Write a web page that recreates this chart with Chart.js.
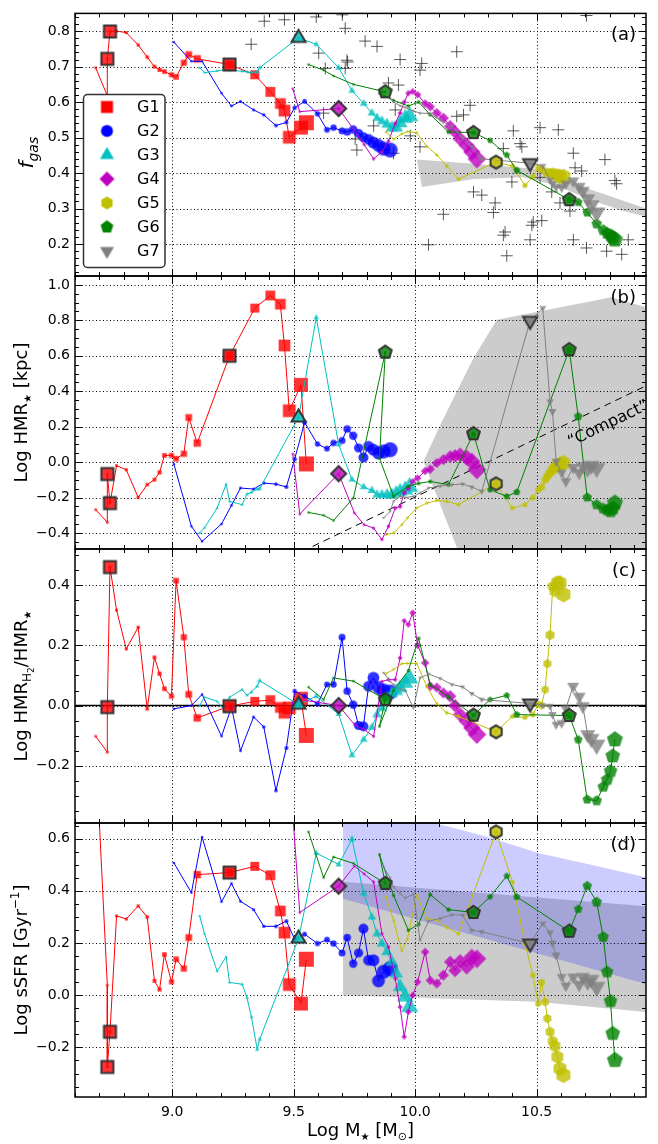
<!DOCTYPE html>
<html>
<head>
<meta charset="utf-8">
<script src="https://cdn.jsdelivr.net/npm/chart.js@4.4.0/dist/chart.umd.min.js"></script>
<style>
  html, body { margin: 0; padding: 0; background: #fff; }
  #wrap { position: relative; width: 658px; height: 1144px; }
  #wrap canvas { position: absolute; left: 0; top: 0; }
</style>
</head>
<body>
<div id="wrap">
  <canvas id="panelA" width="658" height="1144"></canvas>
  <canvas id="panelB" width="658" height="1144"></canvas>
  <canvas id="panelC" width="658" height="1144"></canvas>
  <canvas id="panelD" width="658" height="1144"></canvas>
</div>
<script>
// ---------------- axes ----------------
const massRange = [8.6, 10.95];
const massTicks = [9.0, 9.5, 10.0, 10.5];
const fgasRange = [0.11, 0.85];
const fgasTicks = [0.2, 0.3, 0.4, 0.5, 0.6, 0.7, 0.8];
const hmrRange = [-0.49, 1.05];
const hmrTicks = [-0.4, -0.2, 0.0, 0.2, 0.4, 0.6, 0.8, 1.0];
const ratioRange = [-0.39, 0.52];
const ratioTicks = [-0.2, 0.0, 0.2, 0.4];
const ssfrRange = [-0.39, 0.66];
const ssfrTicks = [-0.2, 0.0, 0.2, 0.4, 0.6];

// ---------------- evolutionary tracks ----------------
const g1Mass  = [8.685, 8.733, 8.733, 8.744, 8.771, 8.811, 8.86, 8.897, 8.927, 8.948, 8.968, 8.997, 9.016, 9.048, 9.068, 9.103, 9.236, 9.34, 9.404, 9.445, 9.462, 9.482, 9.53, 9.552];
const g1Fgas  = [0.697, 0.618, 0.722, 0.799, 0.80, 0.796, 0.761, 0.727, 0.70, 0.691, 0.686, 0.677, 0.671, 0.711, 0.734, 0.722, 0.706, 0.677, 0.629, 0.596, 0.576, 0.501, 0.528, 0.542];
const g1Hmr   = [-0.268, -0.34, -0.067, -0.231, -0.02, -0.043, -0.199, -0.127, -0.099, -0.058, 0.038, 0.038, 0.019, 0.047, 0.252, 0.108, 0.60, 0.869, 0.94, 0.891, 0.658, 0.29, 0.436, -0.01];
const g1Ratio = [-0.102, -0.155, -0.005, 0.46, 0.317, 0.188, 0.26, -0.011, 0.16, 0.106, 0.056, 0.031, 0.415, 0.227, 0.037, -0.041, -0.002, 0.014, 0.018, -0.006, -0.024, -0.008, 0.023, -0.099];
const g1Ssfr  = [0.95, 0.038, -0.275, -0.14, 0.304, 0.292, 0.342, 0.30, 0.055, 0.022, 0.156, 0.051, 0.138, 0.102, 0.221, 0.462, 0.47, 0.494, 0.46, 0.323, 0.24, 0.041, -0.032, 0.138];
const g1Marked = [2, 3, 16];

const g2Mass  = [9.007, 9.079, 9.123, 9.203, 9.244, 9.281, 9.335, 9.377, 9.427, 9.47, 9.504, 9.545, 9.598, 9.637, 9.664, 9.699, 9.72, 9.745, 9.767, 9.787, 9.808, 9.828, 9.849, 9.87, 9.897];
const g2Fgas  = [0.769, 0.715, 0.715, 0.625, 0.589, 0.602, 0.578, 0.564, 0.534, 0.543, 0.584, 0.602, 0.567, 0.522, 0.528, 0.519, 0.516, 0.523, 0.512, 0.501, 0.495, 0.486, 0.478, 0.469, 0.465];
const g2Hmr   = [-0.011, -0.362, -0.447, -0.349, -0.244, -0.146, -0.152, -0.118, -0.124, -0.14, 0.017, 0.224, 0.102, 0.076, 0.108, 0.122, 0.187, 0.149, 0.08, 0.026, 0.089, 0.07, 0.051, 0.06, 0.07];
const g2Ratio = [-0.011, 0.0, 0.037, -0.102, -0.005, -0.15, -0.038, -0.071, -0.282, -0.141, 0.048, 0.031, 0.006, 0.07, 0.07, 0.227, 0.048, 0.003, -0.066, -0.069, 0.064, 0.092, 0.06, 0.05, 0.045];
const g2Ssfr  = [0.507, 0.393, 0.606, 0.358, 0.428, 0.36, 0.328, 0.264, 0.264, 0.284, 0.215, 0.234, 0.198, 0.213, 0.198, 0.162, 0.221, 0.121, 0.162, 0.255, 0.134, 0.134, 0.055, 0.09, 0.102];
const g2Marked = [];

const g3Mass  = [9.113, 9.133, 9.185, 9.222, 9.236, 9.288, 9.308, 9.326, 9.35, 9.36, 9.52, 9.593, 9.685, 9.74, 9.788, 9.822, 9.843, 9.863, 9.884, 9.904, 9.922, 9.938, 9.959, 9.977];
const g3Fgas  = [0.697, 0.683, 0.688, 0.692, 0.69, 0.687, 0.685, 0.684, 0.685, 0.697, 0.781, 0.763, 0.697, 0.632, 0.596, 0.569, 0.555, 0.546, 0.537, 0.528, 0.528, 0.541, 0.555, 0.56];
const g3Hmr   = [-0.40, -0.37, -0.259, -0.124, -0.221, -0.24, -0.18, -0.17, -0.152, -0.15, 0.252, 0.816, 0.1, -0.099, -0.14, -0.16, -0.184, -0.184, -0.184, -0.184, -0.174, -0.165, -0.156, -0.14];
const g3Ratio = [0.0, 0.028, 0.014, -0.022, 0.028, 0.053, 0.034, 0.045, 0.064, 0.083, 0.003, 0.031, -0.028, -0.165, -0.113, -0.072, -0.03, -0.008, 0.026, 0.04, 0.048, 0.059, 0.075, 0.09];
const g3Ssfr  = [0.304, 0.236, 0.092, 0.147, 0.049, 0.042, -0.01, -0.083, -0.208, -0.169, 0.217, 0.545, 0.501, 0.598, 0.39, 0.30, 0.236, 0.198, 0.166, 0.128, 0.083, 0.032, -0.006, -0.045];
const g3Marked = [10];

const g4Mass  = [9.496, 9.525, 9.685, 9.75, 9.79, 9.829, 9.863, 9.89, 9.918, 9.938, 9.955, 9.972, 9.99, 10.01, 10.041, 10.062, 10.089, 10.116, 10.144, 10.164, 10.185, 10.212, 10.233, 10.254];
const g4Fgas  = [0.638, 0.573, 0.582, 0.52, 0.48, 0.44, 0.46, 0.49, 0.54, 0.569, 0.60, 0.625, 0.63, 0.621, 0.596, 0.587, 0.569, 0.555, 0.532, 0.516, 0.496, 0.478, 0.46, 0.44];
const g4Hmr   = [0.047, -0.293, -0.065, -0.287, -0.353, -0.372, -0.437, -0.362, -0.259, -0.25, -0.174, -0.146, -0.109, -0.09, -0.05, -0.04, -0.005, 0.014, 0.032, 0.035, 0.042, 0.026, 0.004, -0.043];
const g4Ratio = [0.01, 0.02, 0.0, -0.063, -0.08, -0.102, 0.08, 0.086, 0.086, 0.158, 0.282, 0.269, 0.308, 0.2, 0.142, 0.064, 0.06, 0.042, 0.031, 0.0, -0.03, -0.052, -0.074, -0.096];
const g4Ssfr  = [0.70, 0.317, 0.418, 0.495, 0.465, 0.434, 0.236, 0.185, 0.064, -0.045, -0.16, -0.064, 0.0, 0.051, 0.166, 0.057, 0.045, 0.077, 0.128, 0.095, 0.13, 0.11, 0.145, 0.14];
const g4Marked = [2];

const g5Mass  = [9.88, 9.911, 9.945, 9.968, 10.006, 10.048, 10.089, 10.13, 10.178, 10.333, 10.40, 10.452, 10.484, 10.507, 10.52, 10.535, 10.544, 10.555, 10.566, 10.575, 10.585, 10.596, 10.61];
const g5Fgas  = [0.516, 0.496, 0.51, 0.517, 0.514, 0.475, 0.451, 0.42, 0.383, 0.431, 0.42, 0.365, 0.39, 0.415, 0.41, 0.405, 0.40, 0.40, 0.40, 0.395, 0.395, 0.39, 0.39];
const g5Hmr   = [-0.409, -0.40, -0.353, -0.315, -0.259, -0.231, -0.216, -0.221, -0.24, -0.122, -0.259, -0.24, -0.2, -0.156, -0.14, -0.1, -0.08, -0.06, -0.04, -0.033, -0.02, -0.01, -0.005];
const g5Ratio = [0.106, 0.12, 0.139, 0.14, 0.14, 0.064, 0.006, -0.024, -0.036, -0.087, -0.036, -0.039, -0.03, 0.006, 0.0, 0.053, 0.139, 0.234, 0.396, 0.38, 0.41, 0.408, 0.369];
const g5Ssfr  = [0.377, 0.287, 0.169, 0.215, 0.383, 0.294, 0.287, 0.26, 0.236, 0.626, 0.434, 0.20, 0.077, -0.032, 0.049, -0.026, -0.089, -0.14, -0.176, -0.195, -0.236, -0.281, -0.306];
const g5Marked = [9];

const g6Mass  = [9.561, 9.623, 9.664, 9.746, 9.877, 9.853, 9.911, 9.972, 10.014, 10.062, 10.137, 10.24, 10.308, 10.377, 10.418, 10.634, 10.671, 10.708, 10.747, 10.774, 10.79, 10.804, 10.813, 10.822];
const g6Fgas  = [0.706, 0.69, 0.674, 0.65, 0.629, 0.625, 0.605, 0.589, 0.60, 0.565, 0.516, 0.514, 0.492, 0.451, 0.408, 0.325, 0.318, 0.289, 0.257, 0.239, 0.23, 0.224, 0.218, 0.212];
const g6Hmr   = [-0.284, -0.30, -0.329, -0.202, 0.62, 0.023, -0.193, -0.137, -0.12, -0.109, -0.127, 0.16, -0.156, -0.193, -0.169, 0.634, 0.258, -0.199, -0.24, -0.262, -0.27, -0.278, -0.26, -0.23];
const g6Ratio = [0.061, 0.02, 0.092, 0.081, 0.02, -0.069, 0.05, 0.116, 0.223, 0.07, 0.028, -0.032, 0.02, 0.034, -0.03, -0.033, -0.113, -0.312, -0.316, -0.27, -0.246, -0.218, -0.168, -0.113];
const g6Ssfr  = [0.626, 0.451, 0.53, 0.505, 0.428, 0.539, 0.383, 0.249, 0.271, 0.386, 0.328, 0.317, 0.377, 0.457, 0.377, 0.245, 0.33, 0.419, 0.357, 0.223, 0.089, -0.023, -0.147, -0.249];
const g6Marked = [4, 11, 15];

const g7Mass  = [9.87, 9.897, 9.911, 9.938, 9.959, 9.993, 10.02, 10.055, 10.103, 10.151, 10.195, 10.233, 10.274, 10.473, 10.525, 10.555, 10.565, 10.58, 10.603, 10.62, 10.65, 10.675, 10.69, 10.71, 10.725, 10.747];
const g7Fgas  = [0.618, 0.61, 0.60, 0.59, 0.585, 0.575, 0.569, 0.568, 0.55, 0.53, 0.50, 0.475, 0.44, 0.428, 0.42, 0.38, 0.37, 0.36, 0.36, 0.37, 0.378, 0.362, 0.35, 0.328, 0.31, 0.289];
const g7Hmr   = [-0.315, -0.278, -0.221, -0.193, -0.2, -0.193, -0.174, -0.146, -0.135, -0.127, -0.124, -0.14, -0.165, 0.797, 0.869, 0.342, 0.286, 0.004, -0.06, -0.109, -0.03, -0.06, -0.024, -0.04, -0.02, -0.033];
const g7Ratio = [0.109, 0.08, 0.07, 0.055, 0.05, -0.008, 0.092, 0.105, 0.09, 0.07, 0.062, 0.04, 0.02, 0.007, 0.001, -0.002, -0.03, -0.063, -0.058, -0.01, 0.064, 0.03, -0.002, -0.096, -0.11, -0.13];
const g7Ssfr  = [0.492, 0.45, 0.415, 0.39, 0.373, 0.387, 0.211, 0.284, 0.294, 0.309, 0.307, 0.249, 0.243, 0.198, 0.275, 0.24, 0.2, 0.153, 0.07, 0.036, 0.07, 0.04, 0.07, 0.05, 0.06, 0.032];
const g7Marked = [13];

// ---------------- observed comparison sample (gas fraction) ----------------
const obsMass = [9.379, 9.462, 9.593, 9.70, 9.712, 9.325, 9.603, 9.623, 9.63, 9.722, 9.712, 9.76, 9.794, 9.843, 9.719, 9.938, 10.027, 10.02, 10.171, 9.89, 9.931, 9.918, 9.829, 9.753, 9.911, 9.98, 10.02, 10.226, 10.199, 10.171, 10.404, 10.514, 10.589, 10.432, 10.439, 10.363, 10.651, 10.658, 10.685, 10.781, 10.822, 10.829, 10.398, 10.514, 10.562, 10.24, 10.274, 10.329, 10.322, 10.116, 10.596, 10.637, 10.486, 10.48, 10.521, 10.37, 10.363, 10.473, 10.377, 10.055, 10.651, 10.705, 10.788, 10.85, 10.877, 10.705];
const obsFgas = [0.828, 0.832, 0.84, 0.846, 0.808, 0.763, 0.738, 0.569, 0.695, 0.713, 0.695, 0.465, 0.772, 0.757, 0.718, 0.72, 0.709, 0.69, 0.742, 0.654, 0.648, 0.578, 0.533, 0.496, 0.456, 0.505, 0.474, 0.591, 0.564, 0.56, 0.519, 0.528, 0.522, 0.483, 0.474, 0.469, 0.456, 0.415, 0.406, 0.438, 0.379, 0.37, 0.375, 0.388, 0.347, 0.347, 0.338, 0.316, 0.289, 0.284, 0.316, 0.293, 0.262, 0.253, 0.266, 0.234, 0.225, 0.212, 0.167, 0.198, 0.212, 0.189, 0.18, 0.171, 0.212, 0.844];

// ---------------- reference zones ----------------
const fgasBandMass = [10.007, 10.24, 10.514, 10.651, 10.788, 10.96, 10.96, 10.856, 10.719, 10.582, 10.445, 10.24, 10.028];
const fgasBandVal  = [0.438, 0.426, 0.411, 0.37, 0.338, 0.298, 0.276, 0.293, 0.325, 0.365, 0.388, 0.383, 0.361];
const hmrZoneMass  = [10.205, 10.034, 10.103, 10.24, 10.336, 10.808, 10.96, 10.96];
const hmrZoneVal   = [-0.6, 0.004, 0.21, 0.587, 0.803, 0.93, 0.87, -0.6];
const compactMass  = [9.4, 10.96];
const compactHmr   = [-0.593, 0.437];
const ssfrBlueMass = [9.703, 10.06, 10.103, 10.295, 10.514, 10.733, 10.96, 10.96, 9.703];
const ssfrBlueVal  = [0.70, 0.68, 0.654, 0.607, 0.543, 0.498, 0.45, 0.04, 0.37];
const ssfrGreyMass = [9.703, 10.96, 10.96, 10.5, 9.703];
const ssfrGreyVal  = [0.435, 0.34, -0.065, -0.025, 0.0];

// ---------------- styling ----------------
const FONT = "'DejaVu Sans', sans-serif";
const groupDefs = [
  {name: 'G1', mass: g1Mass, fgas: g1Fgas, hmr: g1Hmr, ratio: g1Ratio, ssfr: g1Ssfr, marked: g1Marked},
  {name: 'G2', mass: g2Mass, fgas: g2Fgas, hmr: g2Hmr, ratio: g2Ratio, ssfr: g2Ssfr, marked: g2Marked},
  {name: 'G3', mass: g3Mass, fgas: g3Fgas, hmr: g3Hmr, ratio: g3Ratio, ssfr: g3Ssfr, marked: g3Marked},
  {name: 'G4', mass: g4Mass, fgas: g4Fgas, hmr: g4Hmr, ratio: g4Ratio, ssfr: g4Ssfr, marked: g4Marked},
  {name: 'G5', mass: g5Mass, fgas: g5Fgas, hmr: g5Hmr, ratio: g5Ratio, ssfr: g5Ssfr, marked: g5Marked},
  {name: 'G6', mass: g6Mass, fgas: g6Fgas, hmr: g6Hmr, ratio: g6Ratio, ssfr: g6Ssfr, marked: g6Marked},
  {name: 'G7', mass: g7Mass, fgas: g7Fgas, hmr: g7Hmr, ratio: g7Ratio, ssfr: g7Ssfr, marked: g7Marked}
];
const groupLook = {
  G1: {rgb: '255,0,0', shape: 'square'},
  G2: {rgb: '0,0,255', shape: 'circle'},
  G3: {rgb: '0,191,191', shape: 'triUp'},
  G4: {rgb: '191,0,191', shape: 'diamond'},
  G5: {rgb: '191,191,0', shape: 'hexagon'},
  G6: {rgb: '0,128,0', shape: 'pentagon'},
  G7: {rgb: '128,128,128', shape: 'triDown'}
};

// marker size grows along each track (later snapshots are drawn larger)
function growth(i, n) {
  const t = n > 1 ? i / (n - 1) : 1;
  return 1.3 + 6.2 * Math.pow(t, 2.2);
}

function regularPoly(g, n, r, startDeg) {
  for (let k = 0; k < n; k++) {
    const a = (startDeg + 360 * k / n) * Math.PI / 180;
    const x = r * Math.cos(a), y = r * Math.sin(a);
    if (k === 0) g.moveTo(x, y); else g.lineTo(x, y);
  }
  g.closePath();
}
function shapePath(g, kind, s) {
  g.beginPath();
  switch (kind) {
    case 'square': g.rect(-s, -s, 2 * s, 2 * s); break;
    case 'circle': g.arc(0, 0, s, 0, Math.PI * 2); break;
    case 'diamond': { const h = s * 1.25; g.moveTo(0, -h); g.lineTo(h, 0); g.lineTo(0, h); g.lineTo(-h, 0); g.closePath(); break; }
    case 'triUp': regularPoly(g, 3, s * 1.35, -90); break;
    case 'triDown': regularPoly(g, 3, s * 1.35, 90); break;
    case 'pentagon': regularPoly(g, 5, s * 1.12, -90); break;
    case 'hexagon': regularPoly(g, 6, s * 1.08, -90); break;
  }
}
const markerCache = {};
function markerImage(kind, rgb, s, outlined, alpha) {
  const a = alpha === undefined ? 0.8 : alpha;
  const key = [kind, rgb, s.toFixed(2), outlined, a].join('|');
  if (markerCache[key]) return markerCache[key];
  const lw = outlined ? 2 : 0;
  const size = Math.ceil(2 * (s * 1.4 + lw)) + 2;
  const c = document.createElement('canvas');
  c.width = size; c.height = size;
  const g = c.getContext('2d');
  g.translate(size / 2, size / 2);
  shapePath(g, kind, s);
  g.fillStyle = `rgba(${rgb},${a})`;
  g.fill();
  if (outlined) { g.lineWidth = lw; g.strokeStyle = '#333'; g.lineJoin = 'miter'; g.stroke(); }
  markerCache[key] = c;
  return c;
}

function trackSets(field) {
  const out = [];
  groupDefs.forEach((g, gi) => {
    const look = groupLook[g.name];
    const pts = g.mass.map((m, i) => ({x: m, y: g[field][i]}));
    const n = pts.length;
    out.push({
      label: g.name, data: pts, showLine: true,
      borderColor: `rgb(${look.rgb})`, borderWidth: 1, order: 20 - gi,
      pointRadius: c => growth(c.dataIndex, n),
      pointStyle: c => markerImage(look.shape, look.rgb, growth(c.dataIndex, n), false),
      pointBorderWidth: 0
    });
    if (g.marked.length) {
      out.push({
        label: g.name + ' snapshots', data: g.marked.map(i => pts[i]), showLine: false, order: 2,
        pointRadius: 6, pointStyle: markerImage(look.shape, look.rgb, 6, true), pointBorderWidth: 0
      });
    }
  });
  return out;
}
function zoneSet(xs, ys, color) {
  return {
    label: 'zone', data: xs.map((m, i) => ({x: m, y: ys[i]})), showLine: true,
    borderWidth: 0, borderColor: 'rgba(0,0,0,0)', backgroundColor: color, fill: 'shape',
    pointRadius: 0, order: 40
  };
}
function refLine(xs, ys, dash, width) {
  return {
    label: 'ref', data: xs.map((m, i) => ({x: m, y: ys[i]})), showLine: true,
    borderColor: '#000', borderWidth: width, borderDash: dash, pointRadius: 0, order: 30
  };
}

const fmt = v => {
  if (Math.abs(v) < 1e-9) return '0.0';
  return (v < 0 ? '\u2212' : '') + Math.abs(v).toFixed(1);
};

function richText(ctx, parts, cx, cy, angle) {
  const fontOf = p => `${p.italic ? 'italic ' : ''}${p.size}px ${FONT}`;
  let total = 0;
  parts.forEach(p => { ctx.font = fontOf(p); p.w = ctx.measureText(p.t).width; total += p.w; });
  ctx.save();
  ctx.translate(cx, cy);
  ctx.rotate(angle);
  ctx.fillStyle = '#000';
  ctx.textBaseline = 'alphabetic';
  ctx.textAlign = 'left';
  let x = -total / 2;
  parts.forEach(p => { ctx.font = fontOf(p); ctx.fillText(p.t, x, p.dy || 0); x += p.w; });
  ctx.restore();
}

function minorValues(min, max, step) {
  const out = [];
  for (let k = Math.ceil(min / step - 1e-9); k * step <= max + 1e-9; k++) out.push(k * step);
  return out;
}

const panelDecor = {
  id: 'panelDecor',
  beforeDatasetsDraw(chart, args, o) {
    const {ctx, chartArea: a, scales: {x, y}} = chart;
    ctx.save();
    ctx.strokeStyle = '#000';
    ctx.lineWidth = 1;
    ctx.setLineDash([1, 2.5]);
    massTicks.forEach(v => {
      const px = Math.round(x.getPixelForValue(v)) + 0.5;
      ctx.beginPath(); ctx.moveTo(px, a.top); ctx.lineTo(px, a.bottom); ctx.stroke();
    });
    o.yTicks.forEach(v => {
      const py = Math.round(y.getPixelForValue(v)) + 0.5;
      ctx.beginPath(); ctx.moveTo(a.left, py); ctx.lineTo(a.right, py); ctx.stroke();
    });
    ctx.restore();
  },
  afterDatasetsDraw(chart, args, o) {
    const {ctx, chartArea: a, scales: {x, y}} = chart;
    ctx.save();
    ctx.strokeStyle = '#000';
    ctx.lineWidth = 1;
    const seg = (x1, y1, x2, y2) => { ctx.beginPath(); ctx.moveTo(x1, y1); ctx.lineTo(x2, y2); ctx.stroke(); };
    minorValues(massRange[0], massRange[1], 0.1).forEach(v => {
      const px = Math.round(x.getPixelForValue(v)) + 0.5;
      const major = massTicks.some(t => Math.abs(t - v) < 1e-6);
      const len = major ? 7 : 4;
      seg(px, a.bottom, px, a.bottom - len);
      seg(px, a.top, px, a.top + len);
    });
    minorValues(y.min, y.max, o.yMinor).forEach(v => {
      const py = Math.round(y.getPixelForValue(v)) + 0.5;
      const major = o.yTicks.some(t => Math.abs(t - v) < 1e-6);
      const len = major ? 7 : 4;
      seg(a.left, py, a.left + len, py);
      seg(a.right, py, a.right - len, py);
    });
    ctx.lineWidth = 1.5;
    ctx.strokeRect(a.left, a.top, a.right - a.left, a.bottom - a.top);

    // panel tag
    ctx.fillStyle = '#000';
    ctx.font = `18px ${FONT}`;
    ctx.textAlign = 'right';
    ctx.textBaseline = 'alphabetic';
    ctx.fillText(o.tag, a.right - 10, a.top + 27);

    if (o.compact) {
      const p1 = {x: x.getPixelForValue(compactMass[0]), y: y.getPixelForValue(compactHmr[0])};
      const p2 = {x: x.getPixelForValue(compactMass[1]), y: y.getPixelForValue(compactHmr[1])};
      const ang = Math.atan2(p2.y - p1.y, p2.x - p1.x);
      ctx.save();
      ctx.translate(x.getPixelForValue(10.795), y.getPixelForValue(0.215));
      ctx.rotate(ang);
      ctx.font = `16px ${FONT}`;
      ctx.textAlign = 'center';
      ctx.textBaseline = 'middle';
      ctx.fillText('\u201CCompact\u201D', 0, 0);
      ctx.restore();
    }

    if (o.legend) {
      const bx = 83.5, by = 94.5, bw = 81.5, bh = 173;
      ctx.beginPath();
      if (ctx.roundRect) ctx.roundRect(bx, by, bw, bh, 4); else ctx.rect(bx, by, bw, bh);
      ctx.fillStyle = '#fff';
      ctx.fill();
      ctx.lineWidth = 1.5;
      ctx.strokeStyle = '#333';
      ctx.stroke();
      groupDefs.forEach((g, i) => {
        const look = groupLook[g.name];
        const cy = 107 + i * 24;
        const img = markerImage(look.shape, look.rgb, 6, false, 1);
        ctx.drawImage(img, 107 - img.width / 2, cy - img.height / 2);
        ctx.fillStyle = '#000';
        ctx.font = `16px ${FONT}`;
        ctx.textAlign = 'left';
        ctx.textBaseline = 'middle';
        ctx.fillText(g.name, 137, cy + 1);
      });
    }
    ctx.restore();
  },
  afterDraw(chart, args, o) {
    const {ctx, chartArea: a} = chart;
    richText(ctx, o.yTitle, o.yTitleX, (a.top + a.bottom) / 2 + (o.yTitleShift || 0), -Math.PI / 2);
    if (o.xTitle) richText(ctx, o.xTitle, (a.left + a.right) / 2, 1136, 0);
  }
};

function buildPanel(id, area, yRange, yTicks, yMinor, datasets, decor, showX) {
  const xh = showX ? 47 : 0;
  return new Chart(document.getElementById(id), {
    type: 'scatter',
    data: {datasets},
    options: {
      responsive: false, animation: false, devicePixelRatio: 1, events: [],
      layout: {padding: {top: area[0], bottom: 1144 - area[1] - xh, left: 0, right: 12}},
      plugins: {legend: {display: false}, tooltip: {enabled: false}, panelDecor: Object.assign({yTicks, yMinor}, decor)},
      scales: {
        x: {
          type: 'linear', min: massRange[0], max: massRange[1], display: showX,
          afterBuildTicks: s => { s.ticks = massTicks.map(v => ({value: v})); },
          afterFit: s => { s.height = xh; },
          grid: {display: false, drawTicks: false}, border: {display: false},
          ticks: {font: {family: FONT, size: 14}, color: '#000', padding: 7, callback: fmt, maxRotation: 0, autoSkip: false}
        },
        y: {
          type: 'linear', min: yRange[0], max: yRange[1],
          afterBuildTicks: s => { s.ticks = yTicks.map(v => ({value: v})); },
          afterFit: s => { s.width = 75; },
          grid: {display: false, drawTicks: false}, border: {display: false},
          ticks: {font: {family: FONT, size: 14}, color: '#000', padding: 5, callback: fmt, autoSkip: false}
        }
      }
    },
    plugins: [panelDecor]
  });
}

const star = {t: '\u2605', size: 10, dy: 4};

// (a) gas fraction
buildPanel('panelA', [3, 276], fgasRange, fgasTicks, 0.02, [
  ...trackSets('fgas'),
  {label: 'obs', data: obsMass.map((m, i) => ({x: m, y: obsFgas[i]})), showLine: false, order: 35,
   pointStyle: 'cross', pointRadius: 6, pointBorderColor: 'rgba(35,35,35,0.75)', pointBorderWidth: 1},
  zoneSet(fgasBandMass, fgasBandVal, 'rgba(0,0,0,0.2)')
], {tag: '(a)', legend: true, yTitleX: 33, yTitleShift: 8,
    yTitle: [{t: 'f', size: 20, italic: true}, {t: 'gas', size: 14, italic: true, dy: 5}]}, false);

// (b) stellar half-mass radius
buildPanel('panelB', [276, 549], hmrRange, hmrTicks, 0.05, [
  ...trackSets('hmr'),
  refLine(compactMass, compactHmr, [7, 5], 1),
  zoneSet(hmrZoneMass, hmrZoneVal, 'rgba(0,0,0,0.2)')
], {tag: '(b)', compact: true, yTitleX: 27,
    yTitle: [{t: 'Log HMR', size: 18}, star, {t: ' [kpc]', size: 18}]}, false);

// (c) gas-to-stellar size ratio
buildPanel('panelC', [549, 823], ratioRange, ratioTicks, 0.05, [
  ...trackSets('ratio'),
  refLine(massRange, [0, 0], [], 1.5)
], {tag: '(c)', yTitleX: 27,
    yTitle: [{t: 'Log HMR', size: 18}, {t: 'H', size: 12, dy: 4}, {t: '2', size: 9, dy: 7},
             {t: '/HMR', size: 18}, star]}, false);

// (d) specific star formation rate
buildPanel('panelD', [823, 1097], ssfrRange, ssfrTicks, 0.05, [
  ...trackSets('ssfr'),
  zoneSet(ssfrBlueMass, ssfrBlueVal, 'rgba(0,0,255,0.2)'),
  zoneSet(ssfrGreyMass, ssfrGreyVal, 'rgba(0,0,0,0.2)')
], {tag: '(d)', yTitleX: 27,
    yTitle: [{t: 'Log sSFR [Gyr', size: 18}, {t: '\u22121', size: 12, dy: -8}, {t: ']', size: 18}],
    xTitle: [{t: 'Log M', size: 18}, star, {t: ' [M', size: 18}, {t: '\u2299', size: 11, dy: 4}, {t: ']', size: 18}]}, true);
</script>
</body>
</html>
